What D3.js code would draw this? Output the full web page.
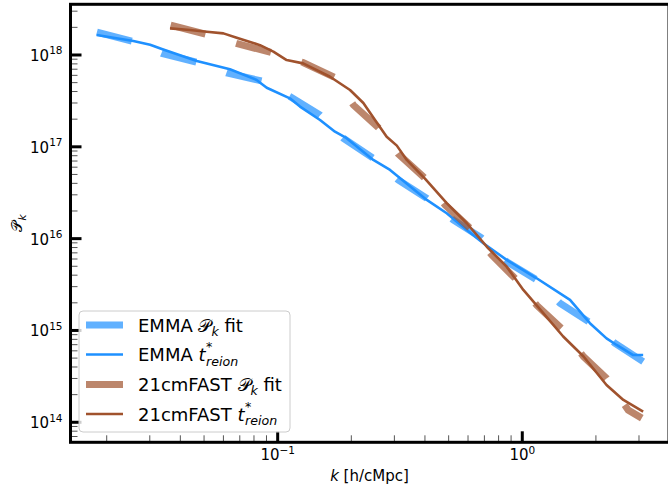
<!DOCTYPE html>
<html><head><meta charset="utf-8">
<script src="https://cdn.jsdelivr.net/npm/d3@7"></script>
<style>body{margin:0;background:#fff}svg{display:block}text{font-family:"DejaVu Sans",sans-serif;fill:#000}</style>
</head><body>
<svg id="c" width="668" height="488"></svg>
<script>
// ---- data ----
const emmaK = [0.0182,0.0257,0.0301,0.0336,0.0467,0.0638,0.082,0.0902,0.1122,0.1234,0.149,0.1715,0.1914,0.246,0.288,0.407,0.491,0.593,0.693,0.863,1.145,1.567,1.89,2.21,2.43,2.84,3.12];
const emmaP = [1.65e18,1.42e18,1.29e18,1.16e18,8.6e17,6.98e17,5.35e17,4.4e17,3.37e17,2.74e17,1.96e17,1.46e17,1.24e17,7.2e16,5.6e16,2.64e16,1.89e16,1.24e16,8.9e15,5.87e15,3.7e15,2.15e15,1.2e15,8.2e14,6.95e14,5.4e14,5.4e14];
const emmaFitK = [0.01824,0.0257,0.0336,0.0467,0.0619,0.0868,0.1122,0.149,0.1854,0.246,0.311,0.407,0.522,0.678,0.863,1.145,1.426,1.91,2.39,3.12];
const emmaFitP = [1.77e18,1.40e18,1.04e18,8.33e17,6.37e17,5.18e17,3.52e17,2.22e17,1.24e17,7.5e16,4.36e16,2.75e16,1.6e16,1.03e16,5.61e15,3.55e15,1.98e15,1.2e15,7.25e14,4.57e14];
const cmK = [0.0363,0.0438,0.0513,0.060,0.068,0.0847,0.096,0.1088,0.127,0.1637,0.1976,0.224,0.25,0.279,0.307,0.337,0.40,0.491,0.593,0.726,0.863,1.01,1.18,1.47,1.78,2.21,2.59,3.12];
const cmP = [1.95e18,1.87e18,1.79e18,1.72e18,1.54e18,1.28e18,1.09e18,8.8e17,8.1e17,5.8e17,4.16e17,3.0e17,1.96e17,1.29e17,1.03e17,7.2e16,4.5e16,2.44e16,1.47e16,7.85e15,4.95e15,2.76e15,1.71e15,8.6e14,5.2e14,2.55e14,1.75e14,1.31e14];
const cmFitK = [0.0365,0.0509,0.0677,0.0945,0.127,0.1715,0.204,0.258,0.311,0.40,0.483,0.617,0.75,0.949,1.148,1.453,1.78,2.21,2.71,3.08];
const cmFitP = [2.12e18,1.68e18,1.34e18,1.06e18,8.28e17,5.69e17,2.85e17,1.62e17,8.36e16,4.54e16,2.33e16,1.27e16,6.64e15,3.55e15,1.87e15,1.04e15,5.19e14,3.01e14,1.36e14,1.11e14];
const xMajor = [0.1, 1];
const xMajorExp = ["\u22121", "0"];
const yMajor = [1e14, 1e15, 1e16, 1e17, 1e18];
const yMajorExp = ["14", "15", "16", "17", "18"];
const legendLabels = ["EMMA", "EMMA", "21cmFAST", "21cmFAST"];

// ---- layout ----
const L = 70.5, R = 669, T = 4.3, B = 442.3;
const svg = d3.select("#c");
const x = d3.scaleLog().domain([Math.pow(10,-1.847), Math.pow(10,0.5998)]).range([L, R]);
const y = d3.scaleLog().domain([Math.pow(10,13.782), Math.pow(10,18.552)]).range([B, T]);

const blue = "#1e90ff", sienna = "#a0522d";
const fitBlue = "rgba(30,144,255,0.7)", fitSienna = "rgba(160,82,45,0.7)";
const dash = "36,32";

const plot = svg.append("g");
const line = d3.line().x(d => x(d[0])).y(d => y(d[1])).curve(d3.curveLinear);
const zip = (a, b) => a.map((v, i) => [v, b[i]]);

plot.append("path").attr("d", line(zip(emmaFitK, emmaFitP))).attr("fill","none")
  .attr("stroke", fitBlue).attr("stroke-width", 7).attr("stroke-dasharray", dash);
plot.append("path").attr("d", line(zip(emmaK, emmaP))).attr("fill","none")
  .attr("stroke", blue).attr("stroke-width", 2.6).attr("stroke-linejoin","round");
plot.append("path").attr("d", line(zip(cmFitK, cmFitP))).attr("fill","none")
  .attr("stroke", fitSienna).attr("stroke-width", 7).attr("stroke-dasharray", dash);
plot.append("path").attr("d", line(zip(cmK, cmP))).attr("fill","none")
  .attr("stroke", sienna).attr("stroke-width", 2.6).attr("stroke-linejoin","round");

// ---- axes ----
const ax = svg.append("g");
const xMinor = [];
[0.01, 0.1, 1].forEach(d => { for (let m = 2; m <= 9; m++) { const v = d*m; if (v > x.domain()[0] && v < x.domain()[1]) xMinor.push(v); } });
const yMinor = [];
[1e13, 1e14, 1e15, 1e16, 1e17, 1e18].forEach(d => { for (let m = 2; m <= 9; m++) { const v = d*m; if (v > y.domain()[0] && v < y.domain()[1]) yMinor.push(v); } });

ax.selectAll(".xmin").data(xMinor).join("line")
  .attr("x1", d => x(d)).attr("x2", d => x(d)).attr("y1", B).attr("y2", B-7)
  .attr("stroke", "#555").attr("stroke-width", 1);
ax.selectAll(".ymin").data(yMinor).join("line")
  .attr("y1", d => y(d)).attr("y2", d => y(d)).attr("x1", L).attr("x2", L+7)
  .attr("stroke", "#555").attr("stroke-width", 1);
ax.selectAll(".xmaj").data(xMajor).join("line")
  .attr("x1", d => x(d)).attr("x2", d => x(d)).attr("y1", B).attr("y2", B-11)
  .attr("stroke", "#000").attr("stroke-width", 3);
ax.selectAll(".ymaj").data(yMajor).join("line")
  .attr("y1", d => y(d)).attr("y2", d => y(d)).attr("x1", L).attr("x2", L+11)
  .attr("stroke", "#000").attr("stroke-width", 3);

ax.append("rect").attr("x", L).attr("y", T).attr("width", R-L).attr("height", B-T)
  .attr("fill", "none").attr("stroke", "#000").attr("stroke-width", 3);

xMajor.forEach((v, i) => {
  const t = ax.append("text").attr("x", x(v)).attr("y", 460).attr("text-anchor", "middle").attr("font-size", 15);
  t.append("tspan").text("10");
  t.append("tspan").attr("dy", -6.5).attr("font-size", 10.5).text(xMajorExp[i]);
});
yMajor.forEach((v, i) => {
  const t = ax.append("text").attr("x", 62.5).attr("y", y(v)+6).attr("text-anchor", "end").attr("font-size", 15);
  t.append("tspan").text("10");
  t.append("tspan").attr("dy", -6.5).attr("font-size", 10.5).text(yMajorExp[i]);
});

const xl = ax.append("text").attr("x", 369.5).attr("y", 481).attr("text-anchor", "middle").attr("font-size", 15);
xl.append("tspan").attr("font-style", "italic").text("k");
xl.append("tspan").text(" [h/cMpc]");

const yl = ax.append("text").attr("transform", "translate(22,223) rotate(-90)").attr("text-anchor", "middle").attr("font-size", 15);
yl.append("tspan").text("\u{1D4AB}");
yl.append("tspan").attr("dy", 3.5).attr("font-size", 10.5).attr("font-style", "italic").text("k");

// ---- legend ----
const lg = svg.append("g");
lg.append("rect").attr("x", 79).attr("y", 311).attr("width", 211).attr("height", 121).attr("rx", 4)
  .attr("fill", "rgba(255,255,255,0.8)").attr("stroke", "#cccccc").attr("stroke-width", 1);
const rowsY = [325, 354.5, 384.5, 414];
const styles = [
  {c: fitBlue, w: 7}, {c: blue, w: 2.6}, {c: fitSienna, w: 7}, {c: sienna, w: 2.6}
];
rowsY.forEach((ry, i) => {
  lg.append("line").attr("x1", 86).attr("x2", 123).attr("y1", ry).attr("y2", ry)
    .attr("stroke", styles[i].c).attr("stroke-width", styles[i].w);
  const base = ry + 6.5;
  const t = lg.append("text").attr("x", 138).attr("y", base).attr("font-size", 18);
  t.append("tspan").text(legendLabels[i] + " ");
  if (i % 2 === 0) {
    t.append("tspan").text("\u{1D4AB}");
    t.append("tspan").attr("dy", 4).attr("font-size", 12.6).attr("font-style", "italic").text("k");
    t.append("tspan").attr("dy", -4).text(" fit");
  } else {
    t.append("tspan").attr("font-style", "italic").text("t");
    const w = t.node().getComputedTextLength();
    t.append("tspan").attr("x", 138 + w + 0.5).attr("dy", -10).attr("font-size", 12.6).text("*");
    t.append("tspan").attr("x", 138 + w + 0.5).attr("dy", 14.6).attr("font-size", 12.6)
      .attr("font-style", "italic").text("reion");
  }
});
</script>
</body></html>
